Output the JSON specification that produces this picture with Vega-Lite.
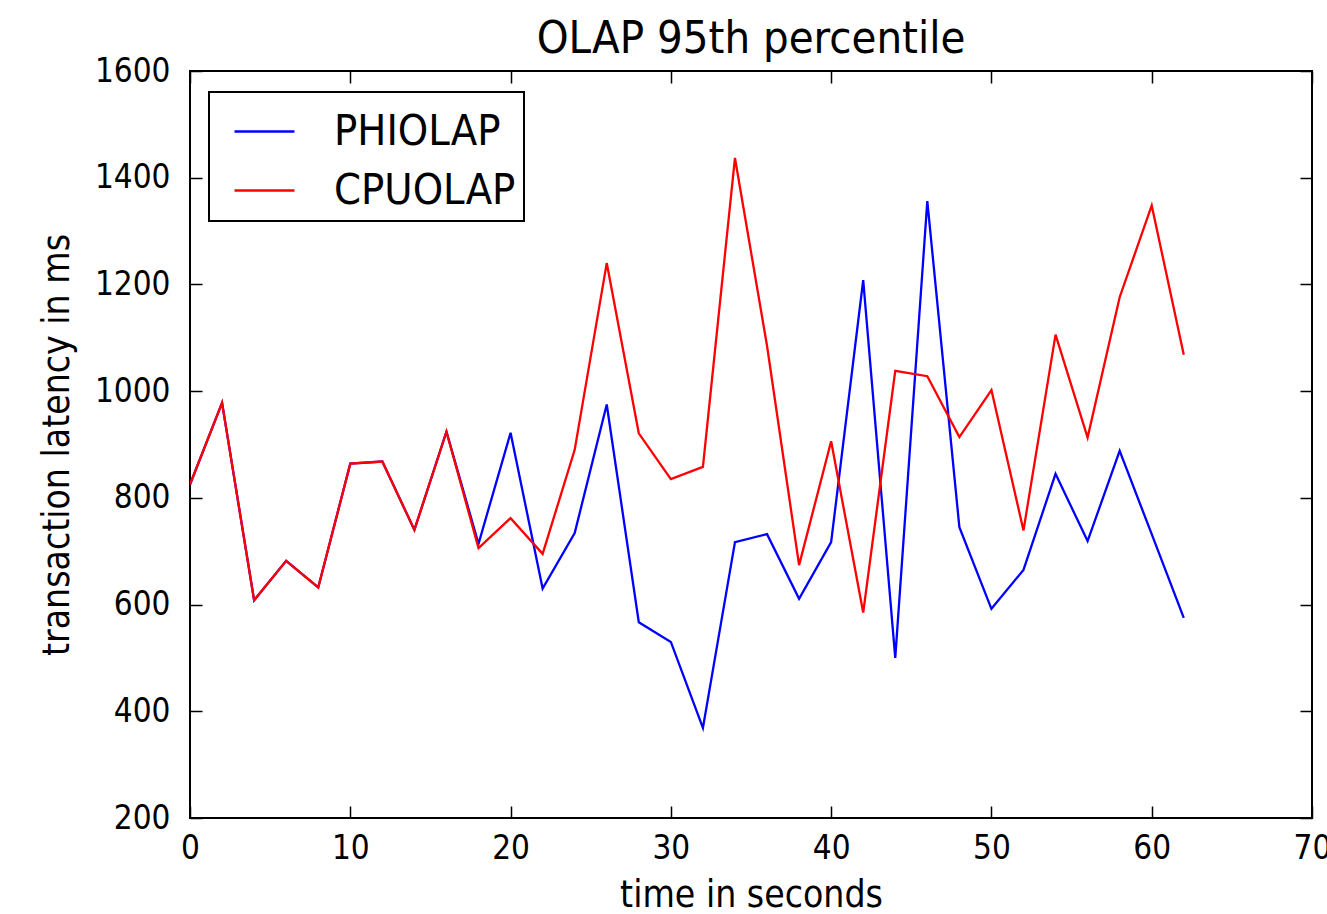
{
  "$schema": "https://vega.github.io/schema/vega-lite/v6.json",
  "width": 1122,
  "height": 747,
  "autosize": "none",
  "padding": {"left": 190, "top": 71, "right": 15, "bottom": 96},
  "background": "white",
  "config": {
    "font": "DejaVu Sans Condensed, DejaVu Sans",
    "view": {"stroke": "black", "strokeWidth": 2},
    "axis": {"grid": false, "domain": false, "labelColor": "black", "titleColor": "black", "tickColor": "black", "tickWidth": 1.5, "titleFontWeight": "normal"},
    "legend": {"strokeWidth": 2}
  },
  "title": {"text": "OLAP 95th percentile", "fontSize": 45, "fontWeight": "normal", "color": "black", "offset": -7, "font": "DejaVu Sans Condensed, DejaVu Sans"},
  "data": {"values": [
    {"t": 0, "v": 825, "s": "PHIOLAP"}, {"t": 2, "v": 978, "s": "PHIOLAP"}, {"t": 4, "v": 608, "s": "PHIOLAP"}, {"t": 6, "v": 682, "s": "PHIOLAP"},
    {"t": 8, "v": 632, "s": "PHIOLAP"}, {"t": 10, "v": 864, "s": "PHIOLAP"}, {"t": 12, "v": 868, "s": "PHIOLAP"}, {"t": 14, "v": 740, "s": "PHIOLAP"},
    {"t": 16, "v": 924, "s": "PHIOLAP"}, {"t": 18, "v": 714, "s": "PHIOLAP"}, {"t": 20, "v": 922, "s": "PHIOLAP"}, {"t": 22, "v": 630, "s": "PHIOLAP"},
    {"t": 24, "v": 734, "s": "PHIOLAP"}, {"t": 26, "v": 975, "s": "PHIOLAP"}, {"t": 28, "v": 567, "s": "PHIOLAP"}, {"t": 30, "v": 530, "s": "PHIOLAP"},
    {"t": 32, "v": 369, "s": "PHIOLAP"}, {"t": 34, "v": 717, "s": "PHIOLAP"}, {"t": 36, "v": 732, "s": "PHIOLAP"}, {"t": 38, "v": 611, "s": "PHIOLAP"},
    {"t": 40, "v": 717, "s": "PHIOLAP"}, {"t": 42, "v": 1208, "s": "PHIOLAP"}, {"t": 44, "v": 500, "s": "PHIOLAP"}, {"t": 46, "v": 1356, "s": "PHIOLAP"},
    {"t": 48, "v": 745, "s": "PHIOLAP"}, {"t": 50, "v": 592, "s": "PHIOLAP"}, {"t": 52, "v": 665, "s": "PHIOLAP"}, {"t": 54, "v": 845, "s": "PHIOLAP"},
    {"t": 56, "v": 719, "s": "PHIOLAP"}, {"t": 58, "v": 888, "s": "PHIOLAP"}, {"t": 60, "v": 732, "s": "PHIOLAP"}, {"t": 62, "v": 575, "s": "PHIOLAP"},
    {"t": 0, "v": 825, "s": "CPUOLAP"}, {"t": 2, "v": 978, "s": "CPUOLAP"}, {"t": 4, "v": 608, "s": "CPUOLAP"}, {"t": 6, "v": 682, "s": "CPUOLAP"},
    {"t": 8, "v": 632, "s": "CPUOLAP"}, {"t": 10, "v": 864, "s": "CPUOLAP"}, {"t": 12, "v": 868, "s": "CPUOLAP"}, {"t": 14, "v": 740, "s": "CPUOLAP"},
    {"t": 16, "v": 924, "s": "CPUOLAP"}, {"t": 18, "v": 706, "s": "CPUOLAP"}, {"t": 20, "v": 762, "s": "CPUOLAP"}, {"t": 22, "v": 695, "s": "CPUOLAP"},
    {"t": 24, "v": 890, "s": "CPUOLAP"}, {"t": 26, "v": 1240, "s": "CPUOLAP"}, {"t": 28, "v": 921, "s": "CPUOLAP"}, {"t": 30, "v": 835, "s": "CPUOLAP"},
    {"t": 32, "v": 858, "s": "CPUOLAP"}, {"t": 34, "v": 1437, "s": "CPUOLAP"}, {"t": 36, "v": 1085, "s": "CPUOLAP"}, {"t": 38, "v": 674, "s": "CPUOLAP"},
    {"t": 40, "v": 906, "s": "CPUOLAP"}, {"t": 42, "v": 585, "s": "CPUOLAP"}, {"t": 44, "v": 1038, "s": "CPUOLAP"}, {"t": 46, "v": 1028, "s": "CPUOLAP"},
    {"t": 48, "v": 914, "s": "CPUOLAP"}, {"t": 50, "v": 1002, "s": "CPUOLAP"}, {"t": 52, "v": 739, "s": "CPUOLAP"}, {"t": 54, "v": 1106, "s": "CPUOLAP"},
    {"t": 56, "v": 913, "s": "CPUOLAP"}, {"t": 58, "v": 1176, "s": "CPUOLAP"}, {"t": 60, "v": 1348, "s": "CPUOLAP"}, {"t": 62, "v": 1068, "s": "CPUOLAP"}
  ]},
  "layer": [
    {
      "mark": {"type": "line", "strokeWidth": 2.3, "clip": true},
      "encoding": {
        "x": {"field": "t", "type": "quantitative", "scale": {"domain": [0, 70], "nice": false, "zero": false},
          "axis": {"orient": "bottom", "values": [0, 10, 20, 30, 40, 50, 60, 70], "format": "d", "tickSize": -12, "labelPadding": 26, "labelFontSize": 33, "labelFlush": false, "labelOverlap": false, "title": "time in seconds", "titleFontSize": 37, "titlePadding": 12}},
        "y": {"field": "v", "type": "quantitative", "scale": {"domain": [200, 1600], "nice": false, "zero": false},
          "axis": {"orient": "left", "values": [200, 400, 600, 800, 1000, 1200, 1400, 1600], "format": "d", "tickSize": -12, "labelPadding": 32, "labelFontSize": 33, "labelOverlap": false, "title": "transaction latency in ms", "titleFontSize": 37, "titlePadding": 18}},
        "color": {"field": "s", "type": "nominal", "sort": ["PHIOLAP", "CPUOLAP"],
          "scale": {"domain": ["PHIOLAP", "CPUOLAP"], "range": ["#0000ff", "#ff0000"]},
          "legend": {"title": null, "orient": "none", "legendX": 19, "legendY": 21, "symbolType": "stroke", "symbolSize": 3600, "symbolStrokeWidth": 2.3, "symbolOffset": 16, "labelFontSize": 43, "labelLimit": 400, "labelColor": "black", "labelOffset": 38, "rowPadding": 5, "padding": 8, "strokeColor": "black", "fillColor": "white", "cornerRadius": 0, "labelFont": "DejaVu Sans Condensed, DejaVu Sans"}},
        "order": {"field": "t"}
      }
    },
    {
      "mark": {"type": "line", "strokeOpacity": 0},
      "encoding": {
        "x": {"field": "t", "type": "quantitative", "axis": {"orient": "top", "values": [0, 10, 20, 30, 40, 50, 60, 70], "tickSize": -12, "labels": false, "title": null}},
        "y": {"field": "v", "type": "quantitative", "axis": {"orient": "right", "values": [200, 400, 600, 800, 1000, 1200, 1400, 1600], "tickSize": -12, "labels": false, "title": null}},
        "detail": {"field": "s"}
      }
    }
  ],
  "resolve": {"axis": {"x": "independent", "y": "independent"}}
}
